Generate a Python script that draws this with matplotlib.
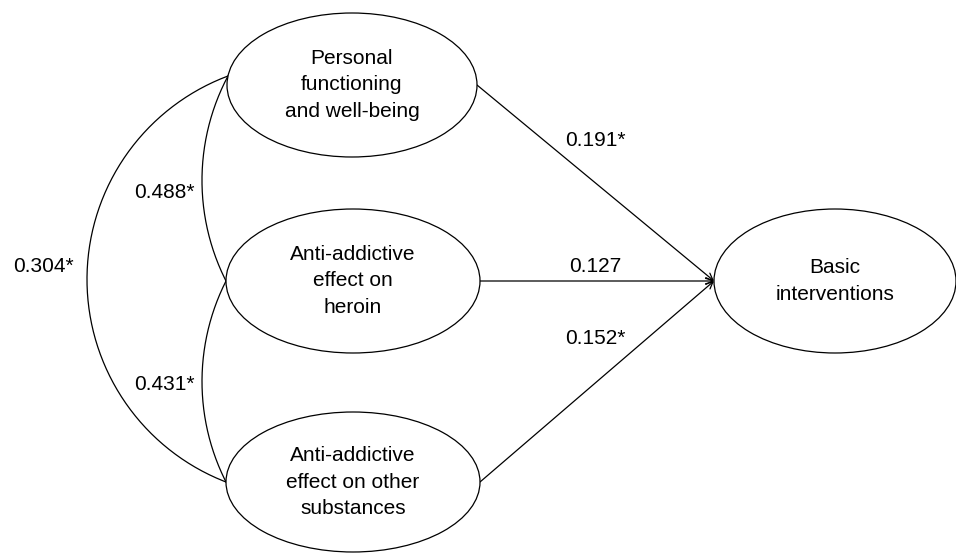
import numpy as np
import matplotlib.pyplot as plt
from matplotlib.patches import Ellipse, FancyArrowPatch

plt.rcParams['font.family'] = ['Liberation Sans', 'DejaVu Sans']

# nodes: name, label, centre (pixel coords), half axes
names = ['pf', 'her', 'oth', 'basic']
labels = ['Personal\nfunctioning\nand well-being',
          'Anti-addictive\neffect on\nheroin',
          'Anti-addictive\neffect on other\nsubstances',
          'Basic\ninterventions']
cx = [352, 353, 353, 835]
cy = [85, 281, 482, 281]
rx = [125, 127, 127, 121]
ry = [72, 72, 70, 72]
left_dy = [-9, 0, 0, 0]   # where the covariance arcs attach on the left side

# regression paths (predictor -> basic interventions)
path_from = ['pf', 'her', 'oth']
path_coef = ['0.191*', '0.127', '0.152*']
path_lab_pos = [(595, 140), (595, 266), (595, 338)]

# covariances between predictors
cov_a = ['pf', 'pf', 'her']
cov_b = ['her', 'oth', 'oth']
cov_coef = ['0.488*', '0.304*', '0.431*']
cov_bulge = [25, 140, 24]
cov_lab_pos = [(164, 193), (43, 266), (164, 385)]

fs = 15

fig = plt.figure(figsize=(9.56, 5.54), dpi=100)
ax = fig.add_axes([0, 0, 1, 1])
ax.set_xlim(0, 956)
ax.set_ylim(554, 0)
ax.set_aspect('equal')
ax.axis('off')

idx = {n: i for i, n in enumerate(names)}
lw = 0.9

def left_point(i):
    dy = left_dy[i]
    return np.array([cx[i] - rx[i] * np.sqrt(1 - (dy / ry[i]) ** 2), cy[i] + dy])

for i in range(len(names)):
    ax.add_patch(Ellipse((cx[i], cy[i]), 2 * rx[i], 2 * ry[i], fc='white', ec='black', lw=lw, zorder=2))
    ax.text(cx[i], cy[i], labels[i], ha='center', va='center', fontsize=fs,
            linespacing=1.5, zorder=3)

# target point = left of basic interventions
t = idx['basic']
tip = (cx[t] - rx[t], cy[t])
for k, src in enumerate(path_from):
    i = idx[src]
    start = (cx[i] + rx[i], cy[i])
    ax.add_patch(FancyArrowPatch(start, tip, arrowstyle='->,head_length=0.7,head_width=0.35',
                                 mutation_scale=7, lw=lw, color='black',
                                 shrinkA=0, shrinkB=0, zorder=1))
    ax.text(path_lab_pos[k][0], path_lab_pos[k][1], path_coef[k], ha='center', va='center', fontsize=fs)

# covariance arcs: circular arcs through left points of ellipses
for k in range(len(cov_a)):
    i, j = idx[cov_a[k]], idx[cov_b[k]]
    p1 = left_point(i)
    p2 = left_point(j)
    d = p2 - p1
    half = np.linalg.norm(d) / 2
    s = cov_bulge[k]
    r = (half ** 2 + s ** 2) / (2 * s)
    mid = (p1 + p2) / 2
    # normal pointing right (away from the bulge)
    n = np.array([d[1], -d[0]]) / np.linalg.norm(d)
    if n[0] < 0:
        n = -n
    centre = mid + n * (r - s)
    a1 = np.arctan2(p1[1] - centre[1], p1[0] - centre[0])
    a2 = np.arctan2(p2[1] - centre[1], p2[0] - centre[0])
    th = np.linspace(a1, a2 + (2 * np.pi if a2 < a1 else 0), 200)
    # go the left way round
    if np.cos(th).mean() > 0:
        th = np.linspace(a1, a2 - 2 * np.pi if a2 > a1 else a2, 200)
    ax.plot(centre[0] + r * np.cos(th), centre[1] + r * np.sin(th), color='black', lw=lw, zorder=1)
    ax.text(cov_lab_pos[k][0], cov_lab_pos[k][1], cov_coef[k], ha='center', va='center', fontsize=fs)

plt.savefig('out.png', dpi=100)
